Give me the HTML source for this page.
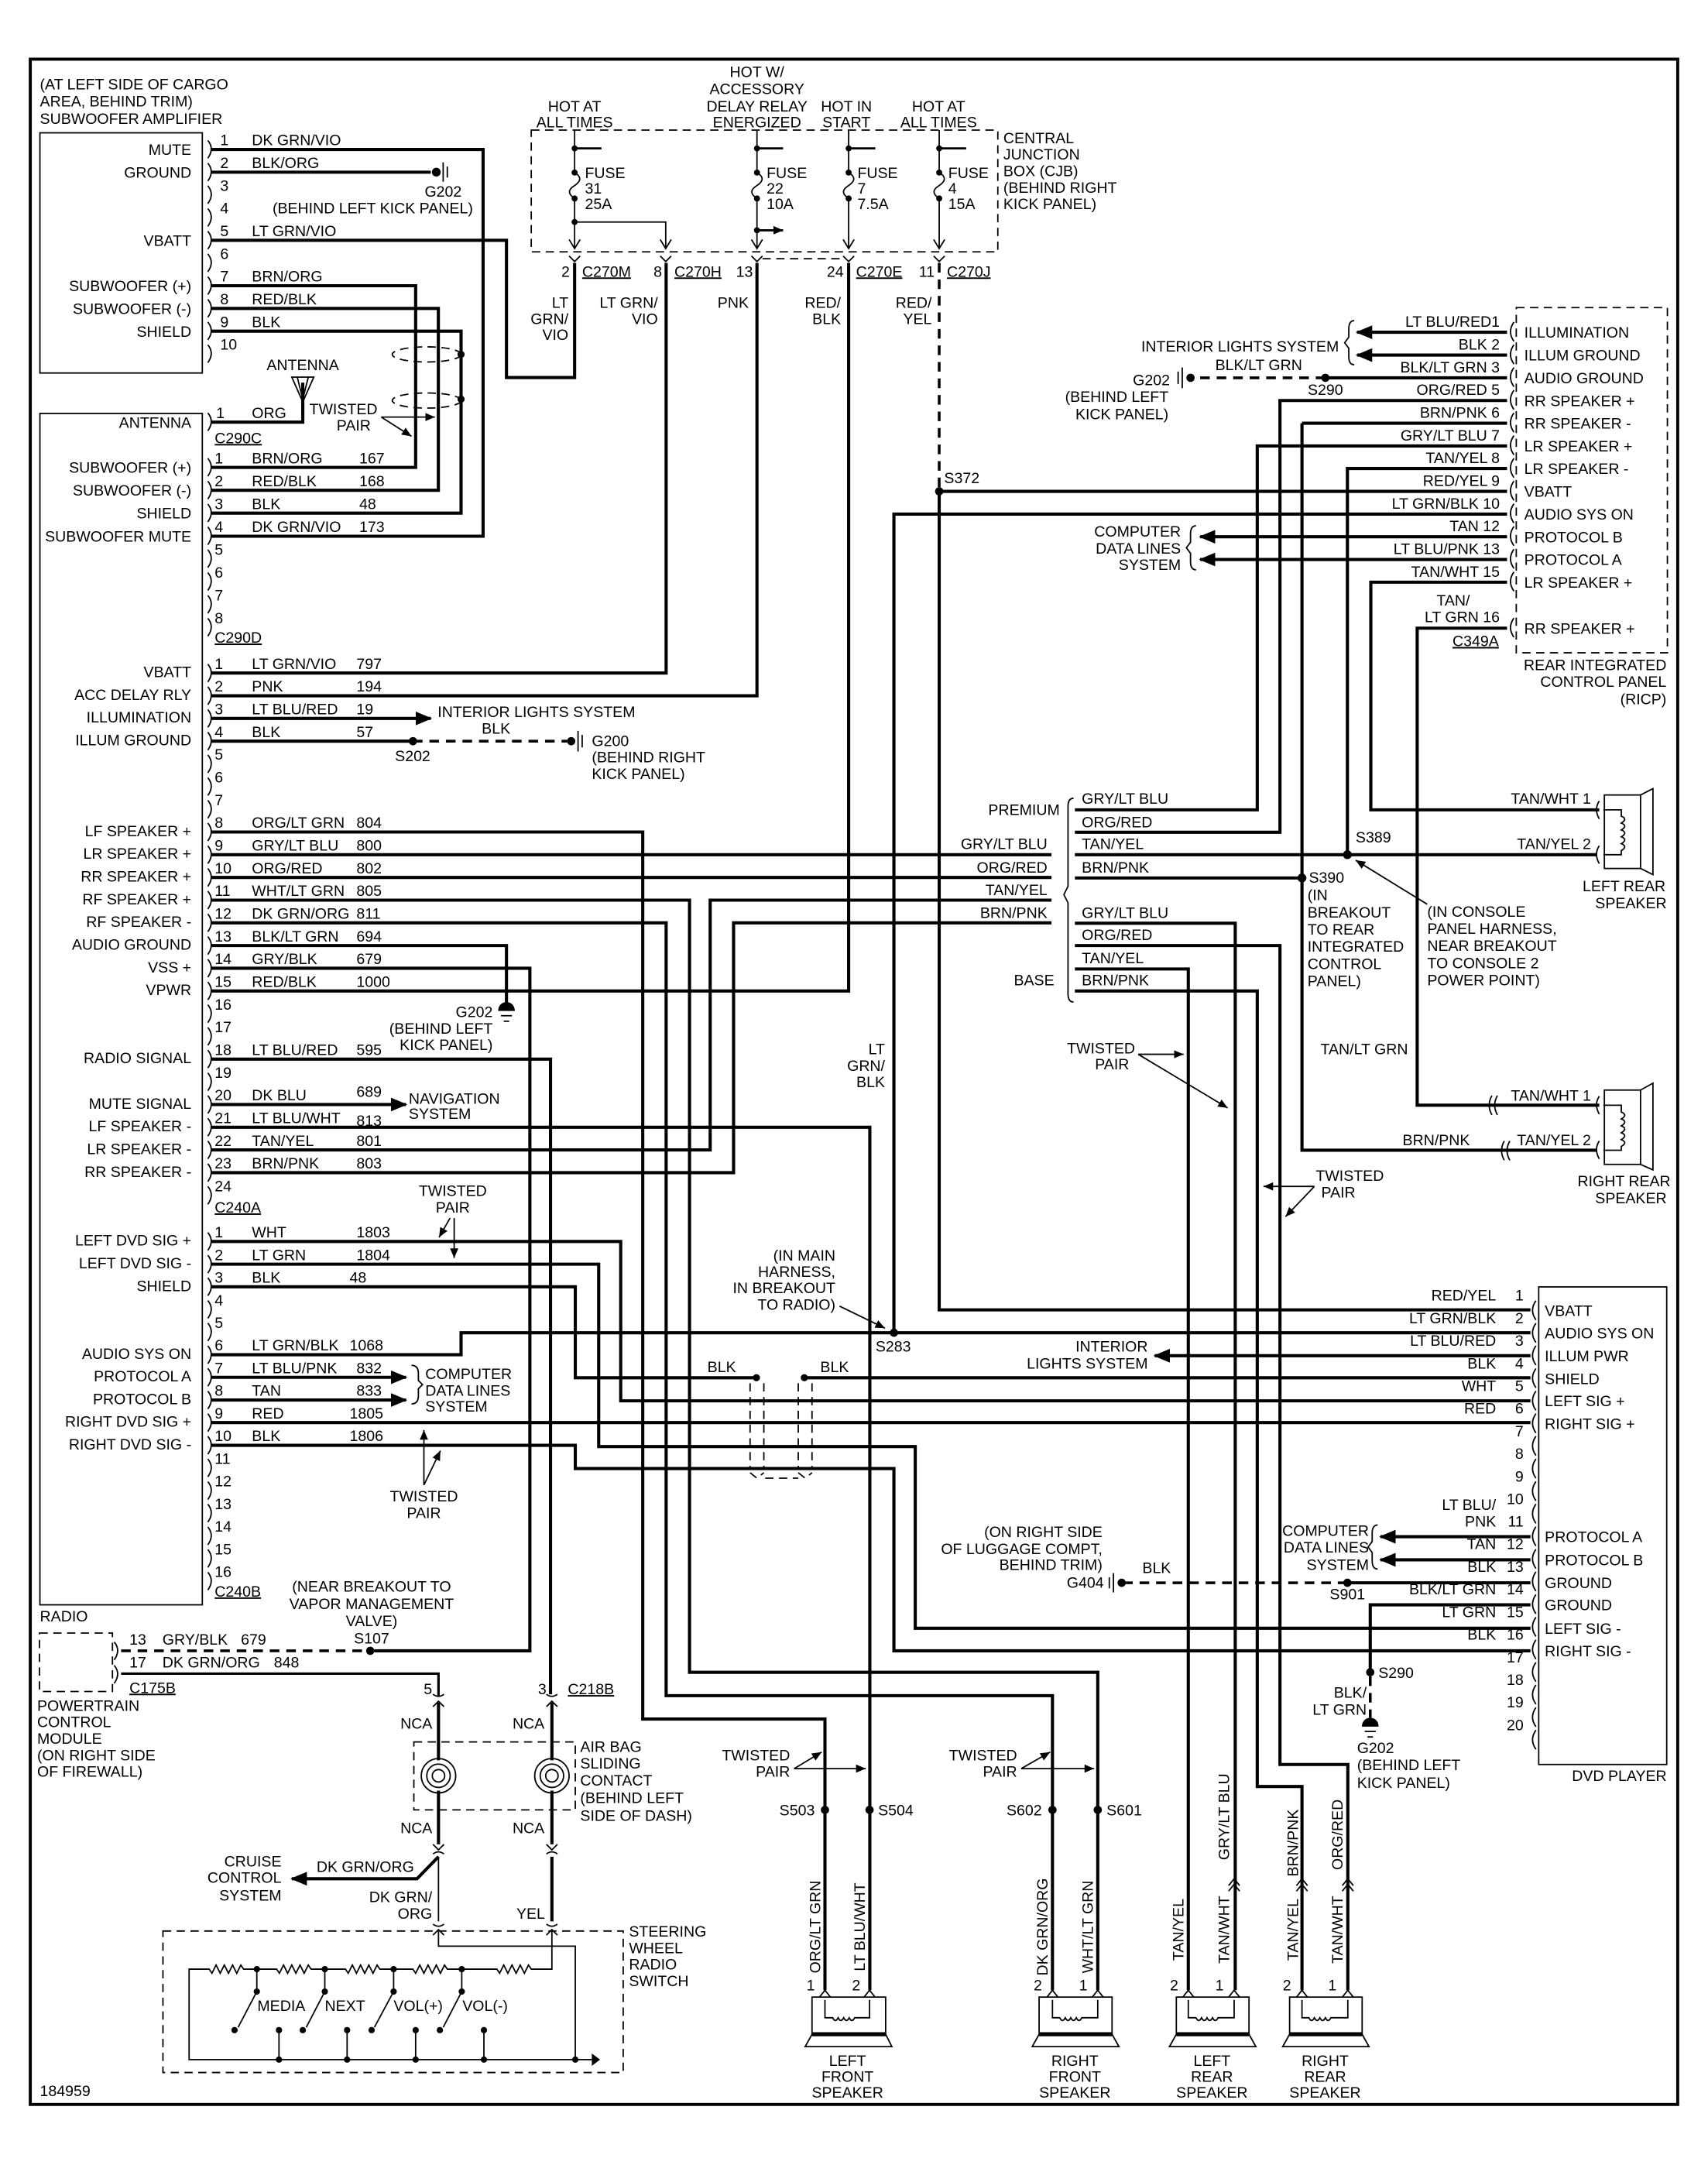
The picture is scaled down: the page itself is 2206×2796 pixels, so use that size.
<!DOCTYPE html>
<html><head><meta charset="utf-8"><style>
html,body{margin:0;padding:0;background:#fff}
svg{display:block}
text{font-family:"Liberation Sans Narrow","Liberation Sans",sans-serif;font-size:11px;fill:#000}
.r{text-anchor:end}.m{text-anchor:middle}
.w{fill:none;stroke:#000;stroke-width:2.3}
.t{fill:none;stroke:#000;stroke-width:1}
.d{fill:none;stroke:#000;stroke-width:2;stroke-dasharray:7 5}
.dt{fill:none;stroke:#000;stroke-width:1;stroke-dasharray:6 4}
.v{font-family:"Liberation Sans",sans-serif;font-size:11px}
</style></head><body>
<svg width="2206" height="2796" viewBox="0 0 1241 1573" preserveAspectRatio="none" xmlns="http://www.w3.org/2000/svg">
<defs>
<marker id="ah" markerWidth="12" markerHeight="10" refX="11" refY="5" orient="auto" markerUnits="userSpaceOnUse"><path d="M0,0 L12,5 L0,10 z" fill="#000"/></marker>
<marker id="sa" markerWidth="7" markerHeight="6" refX="7" refY="3" orient="auto" markerUnits="userSpaceOnUse"><path d="M0,0 L7,3 L0,6 z" fill="#000"/></marker>
</defs>
<rect x="22" y="43" width="1197" height="1486" class="t" stroke-width="2.2" style="stroke-width:2.2"/>

<text x="29" y="65">(AT LEFT SIDE OF CARGO</text>
<text x="29" y="77.5">AREA, BEHIND TRIM)</text>
<text x="29" y="90">SUBWOOFER AMPLIFIER</text>

<rect x="29" y="96.5" width="118" height="174.5" class="t"/>
<g class="r">
<text x="139" y="112.6">MUTE</text><text x="139" y="129.1">GROUND</text><text x="139" y="178.6">VBATT</text>
<text x="139" y="211.6">SUBWOOFER (+)</text><text x="139" y="228.1">SUBWOOFER (-)</text><text x="139" y="244.6">SHIELD</text>
</g>
<g>
<text x="160" y="105.6">1</text><text x="160" y="122.1">2</text><text x="160" y="138.6">3</text><text x="160" y="155.1">4</text><text x="160" y="171.6">5</text><text x="160" y="188.1">6</text><text x="160" y="204.6">7</text><text x="160" y="221.1">8</text><text x="160" y="237.6">9</text><text x="160" y="254.1">10</text>
<text x="183" y="105.6">DK GRN/VIO</text><text x="183" y="122.1">BLK/ORG</text><text x="183" y="171.6">LT GRN/VIO</text>
<text x="183" y="204.6">BRN/ORG</text><text x="183" y="221.1">RED/BLK</text><text x="183" y="237.6">BLK</text>
</g>
<path class="t" d="M151,102 q5,6 0,13 M151,118.5 q5,6 0,13 M151,135 q5,6 0,13 M151,151.5 q5,6 0,13 M151,168 q5,6 0,13 M151,184.5 q5,6 0,13 M151,201 q5,6 0,13 M151,217.5 q5,6 0,13 M151,234 q5,6 0,13 M151,250.5 q5,6 0,13"/>
<path class="w" d="M153,108.6 H351 V389.6 H153"/>
<path class="w" d="M153,125.1 H313"/>
<circle cx="317" cy="125.1" r="3.2"/>
<path class="t" d="M322,118 V132 M325,121 V129"/>
<text class="m" x="322" y="143">G202</text>
<text x="198" y="155">(BEHIND LEFT KICK PANEL)</text>
<path class="w" d="M153,174.6 H368 V274.3 H417.5 V191"/>
<path class="w" d="M153,207.6 H302 V339.6 H153"/>
<path class="w" d="M153,224.1 H318.5 V356.2 H153"/>
<path class="w" d="M153,240.6 H335 V372.8 H153"/>
<ellipse cx="310" cy="257.5" rx="25" ry="5.5" class="dt"/>
<ellipse cx="310" cy="291" rx="25" ry="5.5" class="dt"/>
<circle cx="335" cy="257.5" r="2.6"/><circle cx="335" cy="290" r="2.6"/>
<text class="m" x="220" y="269">ANTENNA</text>
<path class="t" d="M212,274 L228,274 L220,292 Z M216,274 L220,290 L224,274"/>
<path class="w" d="M220,278 V306.7 H153"/>
<text class="m" x="249.5" y="301">TWISTED</text><text class="m" x="257" y="312.7">PAIR</text>
<path class="t" d="M277,303 H316" marker-end="url(#sa)"/>
<path class="t" d="M277,303 L299,317" marker-end="url(#sa)"/>

<rect x="29" y="300.4" width="118" height="865.6" class="t"/>
<text x="29" y="1178">RADIO</text>
<g class="r">
<text x="139" y="310.7">ANTENNA</text>
<text x="139" y="343.6">SUBWOOFER (+)</text><text x="139" y="360.2">SUBWOOFER (-)</text><text x="139" y="376.8">SHIELD</text><text x="139" y="393.4">SUBWOOFER MUTE</text>
<text x="139" y="492">VBATT</text><text x="139" y="508.5">ACC DELAY RLY</text><text x="139" y="525">ILLUMINATION</text><text x="139" y="541.5">ILLUM GROUND</text>
<text x="139" y="607.5">LF SPEAKER +</text><text x="139" y="624">LR SPEAKER +</text><text x="139" y="640.5">RR SPEAKER +</text><text x="139" y="657">RF SPEAKER +</text><text x="139" y="673.5">RF SPEAKER -</text><text x="139" y="690">AUDIO GROUND</text><text x="139" y="706.5">VSS +</text><text x="139" y="723">VPWR</text>
<text x="139" y="772.5">RADIO SIGNAL</text><text x="139" y="805.5">MUTE SIGNAL</text><text x="139" y="822">LF SPEAKER -</text><text x="139" y="838.5">LR SPEAKER -</text><text x="139" y="855">RR SPEAKER -</text>
<text x="139" y="905">LEFT DVD SIG +</text><text x="139" y="921.5">LEFT DVD SIG -</text><text x="139" y="938">SHIELD</text>
<text x="139" y="987.3">AUDIO SYS ON</text><text x="139" y="1003.7">PROTOCOL A</text><text x="139" y="1020.2">PROTOCOL B</text><text x="139" y="1036.6">RIGHT DVD SIG +</text><text x="139" y="1053.1">RIGHT DVD SIG -</text>
</g>
<text x="157" y="303.7">1</text><text x="183" y="303.7">ORG</text>
<text x="156" y="322" text-decoration="underline">C290C</text>
<g>
<text x="156" y="336.6">1</text><text x="183" y="336.6">BRN/ORG</text><text x="261" y="336.6">167</text>
<text x="156" y="353.2">2</text><text x="183" y="353.2">RED/BLK</text><text x="261" y="353.2">168</text>
<text x="156" y="369.8">3</text><text x="183" y="369.8">BLK</text><text x="261" y="369.8">48</text>
<text x="156" y="386.4">4</text><text x="183" y="386.4">DK GRN/VIO</text><text x="261" y="386.4">173</text>
<text x="156" y="403">5</text><text x="156" y="419.6">6</text><text x="156" y="436.2">7</text><text x="156" y="452.8">8</text>
</g>
<text x="156" y="467" text-decoration="underline">C290D</text>
<g>
<text x="156" y="486">1</text><text x="183" y="486">LT GRN/VIO</text><text x="259" y="486">797</text>
<text x="156" y="502.5">2</text><text x="183" y="502.5">PNK</text><text x="259" y="502.5">194</text>
<text x="156" y="519">3</text><text x="183" y="519">LT BLU/RED</text><text x="259" y="519">19</text>
<text x="156" y="535.5">4</text><text x="183" y="535.5">BLK</text><text x="259" y="535.5">57</text>
<text x="156" y="552">5</text><text x="156" y="568.5">6</text><text x="156" y="585">7</text>
<text x="156" y="601.5">8</text><text x="183" y="601.5">ORG/LT GRN</text><text x="259" y="601.5">804</text>
<text x="156" y="618">9</text><text x="183" y="618">GRY/LT BLU</text><text x="259" y="618">800</text>
<text x="156" y="634.5">10</text><text x="183" y="634.5">ORG/RED</text><text x="259" y="634.5">802</text>
<text x="156" y="651">11</text><text x="183" y="651">WHT/LT GRN</text><text x="259" y="651">805</text>
<text x="156" y="667.5">12</text><text x="183" y="667.5">DK GRN/ORG</text><text x="259" y="667.5">811</text>
<text x="156" y="684">13</text><text x="183" y="684">BLK/LT GRN</text><text x="259" y="684">694</text>
<text x="156" y="700.5">14</text><text x="183" y="700.5">GRY/BLK</text><text x="259" y="700.5">679</text>
<text x="156" y="717">15</text><text x="183" y="717">RED/BLK</text><text x="259" y="717">1000</text>
<text x="156" y="733.5">16</text><text x="156" y="750">17</text>
<text x="156" y="766.5">18</text><text x="183" y="766.5">LT BLU/RED</text><text x="259" y="766.5">595</text>
<text x="156" y="783">19</text>
<text x="156" y="799.5">20</text><text x="183" y="799.5">DK BLU</text><text x="259" y="797">689</text>
<text x="156" y="816">21</text><text x="183" y="816">LT BLU/WHT</text><text x="259" y="818">813</text>
<text x="156" y="832.5">22</text><text x="183" y="832.5">TAN/YEL</text><text x="259" y="832.5">801</text>
<text x="156" y="849">23</text><text x="183" y="849">BRN/PNK</text><text x="259" y="849">803</text>
<text x="156" y="865.5">24</text>
</g>
<text x="156" y="881" text-decoration="underline">C240A</text>
<g>
<text x="156" y="899">1</text><text x="183" y="899">WHT</text><text x="259" y="899">1803</text>
<text x="156" y="915.5">2</text><text x="183" y="915.5">LT GRN</text><text x="259" y="915.5">1804</text>
<text x="156" y="932">3</text><text x="183" y="932">BLK</text><text x="254" y="932">48</text>
<text x="156" y="948.4">4</text><text x="156" y="964.8">5</text>
<text x="156" y="981.3">6</text><text x="183" y="981.3">LT GRN/BLK</text><text x="254" y="981.3">1068</text>
<text x="156" y="997.7">7</text><text x="183" y="997.7">LT BLU/PNK</text><text x="259" y="997.7">832</text>
<text x="156" y="1014.2">8</text><text x="183" y="1014.2">TAN</text><text x="259" y="1014.2">833</text>
<text x="156" y="1030.6">9</text><text x="183" y="1030.6">RED</text><text x="254" y="1030.6">1805</text>
<text x="156" y="1047.1">10</text><text x="183" y="1047.1">BLK</text><text x="254" y="1047.1">1806</text>
<text x="156" y="1063.5">11</text><text x="156" y="1080">12</text><text x="156" y="1096.4">13</text><text x="156" y="1112.9">14</text><text x="156" y="1129.3">15</text><text x="156" y="1145.8">16</text>
</g>
<text x="156" y="1160" text-decoration="underline">C240B</text>
<path class="t" d="M151,300 q5,6 0,13 M151,333 q5,6 0,13 M151,349.6 q5,6 0,13 M151,366.2 q5,6 0,13 M151,382.8 q5,6 0,13 M151,399.4 q5,6 0,13 M151,416 q5,6 0,13 M151,432.6 q5,6 0,13 M151,449.2 q5,6 0,13
M151,482.5 q5,6 0,13 M151,499 q5,6 0,13 M151,515.5 q5,6 0,13 M151,532 q5,6 0,13 M151,548.5 q5,6 0,13 M151,565 q5,6 0,13 M151,581.5 q5,6 0,13 M151,598 q5,6 0,13 M151,614.5 q5,6 0,13 M151,631 q5,6 0,13 M151,647.5 q5,6 0,13 M151,664 q5,6 0,13 M151,680.5 q5,6 0,13 M151,697 q5,6 0,13 M151,713.5 q5,6 0,13 M151,730 q5,6 0,13 M151,746.5 q5,6 0,13 M151,763 q5,6 0,13 M151,779.5 q5,6 0,13 M151,796 q5,6 0,13 M151,812.5 q5,6 0,13 M151,829 q5,6 0,13 M151,845.5 q5,6 0,13 M151,862 q5,6 0,13
M151,895.5 q5,6 0,13 M151,912 q5,6 0,13 M151,928.4 q5,6 0,13 M151,944.9 q5,6 0,13 M151,961.3 q5,6 0,13 M151,977.8 q5,6 0,13 M151,994.2 q5,6 0,13 M151,1010.7 q5,6 0,13 M151,1027.1 q5,6 0,13 M151,1043.6 q5,6 0,13 M151,1060 q5,6 0,13 M151,1076.5 q5,6 0,13 M151,1092.9 q5,6 0,13 M151,1109.4 q5,6 0,13 M151,1125.8 q5,6 0,13 M151,1142.3 q5,6 0,13"/>

<g class="m">
<text x="417.5" y="81">HOT AT</text><text x="417.5" y="92.5">ALL TIMES</text>
<text x="550" y="56">HOT W/</text><text x="550" y="68.4">ACCESSORY</text><text x="550" y="81">DELAY RELAY</text><text x="550" y="92.5">ENERGIZED</text>
<text x="615" y="81">HOT IN</text><text x="615" y="92.5">START</text>
<text x="682" y="81">HOT AT</text><text x="682" y="92.5">ALL TIMES</text>
</g>
<text x="729" y="104">CENTRAL</text><text x="729" y="116">JUNCTION</text><text x="729" y="128">BOX (CJB)</text><text x="729" y="140">(BEHIND RIGHT</text><text x="729" y="152">KICK PANEL)</text>
<rect x="386" y="94.5" width="339" height="88.5" class="dt"/>
<path class="t" d="M417.5,94.5 V125.4 c5,3 5,6 0,9.4 c-5,3 -5,6 0,9.4 V180 M550,94.5 V125.4 c5,3 5,6 0,9.4 c-5,3 -5,6 0,9.4 V180 M616.6,94.5 V125.4 c5,3 5,6 0,9.4 c-5,3 -5,6 0,9.4 V180 M682.4,94.5 V125.4 c5,3 5,6 0,9.4 c-5,3 -5,6 0,9.4 V180 M417.5,161.3 H483.7 V180"/>
<path class="t" d="M413.5,174 L417.5,180.6 L421.5,174 M479.7,174 L483.7,180.6 L487.7,174 M546,174 L550,180.6 L554,174 M612.6,174 L616.6,180.6 L620.6,174 M678.4,174 L682.4,180.6 L686.4,174"/>
<g>
<circle cx="417.5" cy="107.8" r="2.2"/><circle cx="417.5" cy="125.4" r="2.2"/><circle cx="417.5" cy="144.2" r="2.2"/><circle cx="417.5" cy="161.3" r="2.2"/>
<circle cx="550" cy="107.8" r="2.2"/><circle cx="550" cy="125.4" r="2.2"/><circle cx="550" cy="144.2" r="2.2"/><circle cx="550" cy="167.3" r="2.2"/>
<circle cx="616.6" cy="107.8" r="2.2"/><circle cx="616.6" cy="125.4" r="2.2"/><circle cx="616.6" cy="144.2" r="2.2"/>
<circle cx="682.4" cy="107.8" r="2.2"/><circle cx="682.4" cy="125.4" r="2.2"/><circle cx="682.4" cy="144.2" r="2.2"/>
</g>
<path class="w" style="stroke-width:1.6" d="M417.5,107.8 H437 M550,107.8 H569 M616.6,107.8 H636 M682.4,107.8 H702 M550,167.3 H569" marker-end="url(#sa)"/>
<path class="w" style="stroke-width:1.6" d="M550,167.3 H569" marker-end="url(#sa)"/>
<text x="425" y="129.4">FUSE</text><text x="425" y="140.7">31</text><text x="425" y="152">25A</text>
<text x="557" y="129.4">FUSE</text><text x="557" y="140.7">22</text><text x="557" y="152">10A</text>
<text x="623" y="129.4">FUSE</text><text x="623" y="140.7">7</text><text x="623" y="152">7.5A</text>
<text x="689" y="129.4">FUSE</text><text x="689" y="140.7">4</text><text x="689" y="152">15A</text>
<path class="t" d="M413.5,186 L417.5,190 L421.5,186 M479.7,186 L483.7,190 L487.7,186 M546,186 L550,190 L554,186 M612.6,186 L616.6,190 L620.6,186 M678.4,186 L682.4,190 L686.4,186"/>
<path class="dt" d="M554,188 H612"/>
<text class="r" x="414" y="201">2</text><text x="423" y="201" text-decoration="underline">C270M</text>
<text class="r" x="481" y="201">8</text><text x="490" y="201" text-decoration="underline">C270H</text>
<text class="r" x="547" y="201">13</text>
<text class="r" x="613" y="201">24</text><text x="622" y="201" text-decoration="underline">C270E</text>
<text class="r" x="679" y="201">11</text><text x="688" y="201" text-decoration="underline">C270J</text>
<g class="r">
<text x="413" y="223.6">LT</text><text x="413" y="235.4">GRN/</text><text x="413" y="247">VIO</text>
<text x="478" y="223.6">LT GRN/</text><text x="478" y="235.4">VIO</text>
<text x="544" y="223.6">PNK</text>
<text x="611" y="223.6">RED/</text><text x="611" y="235.4">BLK</text>
<text x="677" y="223.6">RED/</text><text x="677" y="235.4">YEL</text>
</g>
<path class="d" d="M682.4,191 V357"/>
<circle cx="682.4" cy="357" r="3"/>
<text x="686" y="351">S372</text>

<path class="w" d="M153,489 H484 V191"/>
<path class="w" d="M153,505.5 H550 V191"/>
<path class="w" d="M153,522 H313" marker-end="url(#ah)"/>
<text x="318" y="521">INTERIOR LIGHTS SYSTEM</text>
<text x="350" y="533">BLK</text>
<path class="w" d="M153,538.5 H300"/>
<path class="d" d="M300,538.5 H412"/>
<circle cx="300" cy="538.5" r="3"/>
<circle cx="415" cy="538.5" r="3"/>
<path class="t" d="M420,531 V546 M423,534 V543"/>
<text x="287" y="553">S202</text>
<text x="430" y="542">G200</text><text x="430" y="554">(BEHIND RIGHT</text><text x="430" y="566">KICK PANEL)</text>
<path class="w" d="M153,604.5 H467 V1249 H599.4 V1446"/>
<path class="w" d="M153,621 H764"/>
<path class="w" d="M153,637.5 H764"/>
<path class="w" d="M153,654 H501 V1215 H797.6 V1446"/>
<path class="w" d="M153,670.5 H484 V1232 H764.7 V1446"/>
<path class="w" d="M153,687 H368 V733"/>
<path class="t" d="M362,734 H374 M364,738 H372 M366,742 H370"/>
<path d="M362,734 a6,6 0 0 1 12,0 z"/>
<text class="r" x="358" y="739">G202</text><text class="r" x="358" y="751">(BEHIND LEFT</text><text class="r" x="358" y="763">KICK PANEL)</text>
<path class="w" d="M153,703.5 H385 V1199.4 H272"/>
<path class="w" d="M153,720 H616.6 V191"/>
<path class="w" d="M153,769.5 H400 V1231"/>
<path class="w" d="M153,802.5 H295" marker-end="url(#ah)"/>
<text x="297" y="802">NAVIGATION</text><text x="297" y="813">SYSTEM</text>
<path class="w" d="M153,819 H632 V1446"/>
<path class="w" d="M153,835.5 H516 V654 H764"/>
<path class="w" d="M153,852 H533 V670.5 H764"/>
<text class="m" x="329" y="869">TWISTED</text><text class="m" x="329" y="881">PAIR</text>
<path class="t" d="M327,885 L319,899" marker-end="url(#sa)"/>
<path class="t" d="M330,885 V914" marker-end="url(#sa)"/>
<text class="r" x="643" y="766">LT</text><text class="r" x="643" y="778">GRN/</text><text class="r" x="643" y="790">BLK</text>

<path class="w" d="M153,902 H451 V1017.8 H1112"/>
<path class="w" d="M153,918.5 H435 V1051 H665 V1183 H1112"/>
<path class="w" d="M153,934.9 H418 V1001 H549.6"/>
<circle cx="549.6" cy="1001" r="2.6"/>
<path class="w" d="M584.4,1001 H1112"/>
<circle cx="584.4" cy="1001" r="2.6"/>
<text x="514" y="997">BLK</text><text x="596" y="997">BLK</text>
<path class="dt" d="M545,1005 V1066 M555,1005 V1066 M580,1005 V1066 M590,1005 V1066 M545,1070 L550,1074 L555,1070 M580,1070 L585,1074 L590,1070 M556,1074 H580"/>
<path class="w" d="M153,984.3 H335 V968.3 H1112"/>
<circle cx="649.5" cy="968.3" r="3"/>
<text class="m" x="649" y="982">S283</text>
<path class="w" d="M649.5,968.3 V373.5 H1095"/>
<text class="r" x="607" y="916">(IN MAIN</text><text class="r" x="607" y="927.8">HARNESS,</text><text class="r" x="607" y="939.6">IN BREAKOUT</text><text class="r" x="607" y="951.5">TO RADIO)</text>
<path class="t" d="M610,949 L643,965" marker-end="url(#sa)"/>
<path class="w" d="M153,1000.7 H295" marker-end="url(#ah)"/>
<path class="w" d="M153,1017.2 H295" marker-end="url(#ah)"/>
<path class="t" d="M299,992 q5,0 5,6 v5 l3,3 l-3,3 v5 q0,6 -5,6"/>
<text x="309" y="1002">COMPUTER</text><text x="309" y="1014">DATA LINES</text><text x="309" y="1025.7">SYSTEM</text>
<path class="w" d="M153,1033.6 H1112"/>
<path class="w" d="M153,1050.1 H418 V1067 H649.5 V1199.4 H1112"/>
<text class="m" x="308" y="1091">TWISTED</text><text class="m" x="308" y="1103">PAIR</text>
<path class="t" d="M308,1079 V1039" marker-end="url(#sa)"/>
<path class="t" d="M308,1079 L320,1054" marker-end="url(#sa)"/>

<path class="w" d="M682.4,357 V951.7 H1112"/>
<path class="w" d="M682.4,357 H1095"/>

<rect x="28.7" y="1186.5" width="53" height="42.5" class="dt"/>
<path class="t" d="M83,1193 q5,6 0,13 M83,1210 q5,6 0,13"/>
<text x="94" y="1195">13</text><text x="118" y="1195">GRY/BLK</text><text x="175" y="1195">679</text>
<text x="94" y="1211.5">17</text><text x="118" y="1211.5">DK GRN/ORG</text><text x="199" y="1211.5">848</text>
<text x="94" y="1230" text-decoration="underline">C175B</text>
<path class="d" d="M88,1199.4 H266"/>
<circle cx="269" cy="1199.4" r="3"/>
<text class="m" x="270" y="1156.5">(NEAR BREAKOUT TO</text><text class="m" x="270" y="1169">VAPOR MANAGEMENT</text><text class="m" x="270" y="1181.4">VALVE)</text><text class="m" x="270" y="1194">S107</text>
<path class="w" style="stroke-width:1.8" d="M88,1216 H318.6 V1232"/>
<text x="27" y="1243">POWERTRAIN</text><text x="27" y="1255">CONTROL</text><text x="27" y="1267">MODULE</text><text x="27" y="1279">(ON RIGHT SIDE</text><text x="27" y="1291">OF FIREWALL)</text>

<text class="r" x="314" y="1231">5</text><text class="r" x="397" y="1231">3</text><text x="412.6" y="1231" text-decoration="underline">C218B</text>
<path class="t" d="M314.6,1231 q4,3 8,0 M397,1231 q4,3 8,0 M314.6,1240 L318.6,1236 L322.6,1240 M397,1240 L401,1236 L405,1240"/>
<text class="m" x="302.5" y="1256">NCA</text><text class="m" x="384" y="1256">NCA</text>
<path class="w" d="M318.6,1237 V1279 M401,1237 V1279 M318.6,1301 V1340 M401,1301 V1340"/>
<rect x="300.7" y="1265.6" width="117.3" height="49.4" class="dt"/>
<circle cx="318.6" cy="1290.2" r="12.5" class="t"/><circle cx="318.6" cy="1290.2" r="8.5" class="t"/><circle cx="318.6" cy="1290.2" r="4.5" class="t"/>
<circle cx="401" cy="1290.2" r="12.5" class="t"/><circle cx="401" cy="1290.2" r="8.5" class="t"/><circle cx="401" cy="1290.2" r="4.5" class="t"/>
<text x="421.6" y="1273">AIR BAG</text><text x="421.6" y="1285">SLIDING</text><text x="421.6" y="1297.4">CONTACT</text><text x="421.6" y="1310">(BEHIND LEFT</text><text x="421.6" y="1322.8">SIDE OF DASH)</text>
<text class="m" x="302.5" y="1332">NCA</text><text class="m" x="384" y="1332">NCA</text>
<path class="t" d="M314.6,1340 L318.6,1344 L322.6,1340 M397,1340 L401,1344 L405,1340 M314.6,1347 q4,-3 8,0 M397,1347 q4,-3 8,0"/>
<path class="w" d="M318.6,1349 L303,1365 H212" marker-end="url(#ah)"/>
<text class="r" x="204.5" y="1356">CRUISE</text><text class="r" x="204.5" y="1368">CONTROL</text><text class="r" x="204.5" y="1381">SYSTEM</text>
<text x="230" y="1360">DK GRN/ORG</text>
<text class="r" x="314" y="1382">DK GRN/</text><text class="r" x="314" y="1394">ORG</text>
<text class="r" x="396" y="1394">YEL</text>
<path class="t" d="M318.6,1349 V1396"/>
<path class="w" d="M401,1349 V1396"/>
<rect x="118.4" y="1403" width="334.4" height="102.8" class="dt"/>
<path class="t" d="M314.6,1398 q4,3 8,0 M397,1398 q4,3 8,0 M314.6,1406 L318.6,1402 L322.6,1406 M397,1406 L401,1402 L405,1406"/>
<text x="457" y="1407">STEERING</text><text x="457" y="1419">WHEEL</text><text x="457" y="1431">RADIO</text><text x="457" y="1443">SWITCH</text>
<path class="t" d="M318.6,1402 V1414 H418 V1496.4 M401,1402 V1430.7 H386 l-2,-3 l-3,6 l-3,-6 l-3,6 l-3,-6 l-3,6 l-3,-6 l-3,6 l-2,-3 H335.5 M335.5,1430.7 H325 l-2,-3 l-3,6 l-3,-6 l-3,6 l-3,-6 l-3,6 l-3,-6 l-3,6 l-2,-3 H286 M286,1430.7 H276 l-2,-3 l-3,6 l-3,-6 l-3,6 l-3,-6 l-3,6 l-3,-6 l-3,6 l-2,-3 H236 M236,1430.7 H226 l-2,-3 l-3,6 l-3,-6 l-3,6 l-3,-6 l-3,6 l-3,-6 l-3,6 l-2,-3 H186.6 M186.6,1430.7 H177 l-2,-3 l-3,6 l-3,-6 l-3,6 l-3,-6 l-3,6 l-3,-6 l-3,6 l-2,-3 H137.4 V1496.4 H430"/>
<path d="M430,1492 L436,1496.4 L430,1501 z"/>
<path class="t" d="M186.6,1430.7 V1447 L173,1473 M236,1430.7 V1447 L222.5,1473 M286,1430.7 V1447 L272,1473 M335.5,1430.7 V1447 L322,1473 M202.7,1475 V1496.4 M252.2,1475 V1496.4 M302,1475 V1496.4 M351.6,1475 V1496.4"/>
<g>
<circle cx="186.6" cy="1430.7" r="2.3"/><circle cx="236" cy="1430.7" r="2.3"/><circle cx="286" cy="1430.7" r="2.3"/><circle cx="335.5" cy="1430.7" r="2.3"/>
<circle cx="186.6" cy="1447" r="2.3"/><circle cx="236" cy="1447" r="2.3"/><circle cx="286" cy="1447" r="2.3"/><circle cx="335.5" cy="1447" r="2.3"/>
<circle cx="170.4" cy="1475" r="2.3"/><circle cx="220" cy="1475" r="2.3"/><circle cx="270" cy="1475" r="2.3"/><circle cx="319.6" cy="1475" r="2.3"/>
<circle cx="202.7" cy="1475" r="2.3"/><circle cx="252.2" cy="1475" r="2.3"/><circle cx="302" cy="1475" r="2.3"/><circle cx="351.6" cy="1475" r="2.3"/>
<circle cx="202.7" cy="1496.4" r="2.3"/><circle cx="252.2" cy="1496.4" r="2.3"/><circle cx="302" cy="1496.4" r="2.3"/><circle cx="351.6" cy="1496.4" r="2.3"/><circle cx="418" cy="1496.4" r="2.3"/>
</g>
<text x="187" y="1461">MEDIA</text><text x="236" y="1461">NEXT</text><text x="286" y="1461">VOL(+)</text><text x="336" y="1461">VOL(-)</text>
<text x="29" y="1523">184959</text>

<g class="r"><text x="761" y="617">GRY/LT BLU</text><text x="761" y="634">ORG/RED</text><text x="761" y="650.5">TAN/YEL</text><text x="761" y="667">BRN/PNK</text>
<text x="770" y="592">PREMIUM</text><text x="766" y="716">BASE</text></g>
<path class="t" d="M780,580 q-4,0 -4,6 v58 l-3,6 l3,6 v66 q0,6 4,6"/>
<text x="786" y="584">GRY/LT BLU</text><text x="786" y="601">ORG/RED</text><text x="786" y="617">TAN/YEL</text><text x="786" y="634">BRN/PNK</text>
<text x="786" y="667">GRY/LT BLU</text><text x="786" y="683">ORG/RED</text><text x="786" y="700">TAN/YEL</text><text x="786" y="716">BRN/PNK</text>
<path class="w" d="M781,588.4 H913.5 V324 H1095"/>
<path class="w" d="M781,604.7 H930 V291 H1095"/>
<path class="w" d="M781,621 H1160"/>
<path class="w" d="M979,621 V340.4 H1095"/>
<circle cx="979" cy="621" r="3.2"/>
<path class="w" d="M781,637.9 H946"/>
<path class="w" d="M946,307.5 H1095 M946,307.5 V835.7 H1160"/>
<circle cx="946" cy="637.9" r="3.2"/>
<text x="985" y="612">S389</text><text x="951" y="641.5">S390</text>
<text x="950" y="654">(IN</text><text x="950" y="666.6">BREAKOUT</text><text x="950" y="679">TO REAR</text><text x="950" y="691.5">INTEGRATED</text><text x="950" y="704">CONTROL</text><text x="950" y="716.5">PANEL)</text>
<text x="1037" y="666">(IN CONSOLE</text><text x="1037" y="678.5">PANEL HARNESS,</text><text x="1037" y="691">NEAR BREAKOUT</text><text x="1037" y="703.5">TO CONSOLE 2</text><text x="1037" y="716">POWER POINT)</text>
<path class="t" d="M1037,657 L985,625" marker-end="url(#sa)"/>
<path class="w" d="M781,670.8 H897.5 V1446"/>
<path class="w" d="M781,687 H930 V1282 H979.3 V1446"/>
<path class="w" d="M781,704 H863.4 V1446"/>
<path class="w" d="M781,720 H913.5 V1298 H946 V1446"/>
<text class="m" x="800" y="765.5">TWISTED</text><text class="m" x="808" y="777">PAIR</text>
<path class="t" d="M827,766 H860" marker-end="url(#sa)"/>
<path class="t" d="M827,766 L892,805" marker-end="url(#sa)"/>
<text x="956" y="858">TWISTED</text><text x="960" y="870">PAIR</text>
<path class="t" d="M955,862 H918" marker-end="url(#sa)"/>
<path class="t" d="M955,862 L934,884" marker-end="url(#sa)"/>
<text class="r" x="1023" y="766">TAN/LT GRN</text>

<rect x="1101.7" y="223.5" width="109.8" height="250.8" class="dt"/>
<path class="t" d="M1100,234 q-5,7 0,14 M1100,250.5 q-5,7 0,14 M1100,267 q-5,7 0,14 M1100,283.5 q-5,7 0,14 M1100,300 q-5,7 0,14 M1100,316.5 q-5,7 0,14 M1100,333 q-5,7 0,14 M1100,349.5 q-5,7 0,14 M1100,366 q-5,7 0,14 M1100,382.5 q-5,7 0,14 M1100,399 q-5,7 0,14 M1100,415.5 q-5,7 0,14 M1100,449 q-5,7 0,14"/>
<g class="r">
<text x="1089.7" y="237.4">LT BLU/RED1</text><text x="1089.7" y="254">BLK  2</text><text x="1089.7" y="270.5">BLK/LT GRN  3</text><text x="1089.7" y="287">ORG/RED  5</text><text x="1089.7" y="303.5">BRN/PNK  6</text><text x="1089.7" y="320">GRY/LT BLU  7</text><text x="1089.7" y="336.4">TAN/YEL  8</text><text x="1089.7" y="353">RED/YEL  9</text><text x="1089.7" y="369.5">LT GRN/BLK 10</text><text x="1089.7" y="386">TAN 12</text><text x="1089.7" y="402.5">LT BLU/PNK 13</text><text x="1089.7" y="419">TAN/WHT 15</text><text x="1068" y="440">TAN/</text><text x="1089.7" y="452">LT GRN  16</text>
<text x="1089" y="469.5" text-decoration="underline">C349A</text>
<text x="972.8" y="255.5">INTERIOR LIGHTS SYSTEM</text>
<text x="858" y="390">COMPUTER</text><text x="858" y="402.3">DATA LINES</text><text x="858" y="414">SYSTEM</text>
<text x="850" y="280">G202</text><text x="849" y="292">(BEHIND LEFT</text><text x="849" y="304.6">KICK PANEL)</text>
<text x="1210.8" y="487">REAR INTEGRATED</text><text x="1210.8" y="499">CONTROL PANEL</text><text x="1210.8" y="511.7">(RICP)</text>
</g>
<g>
<text x="1107.5" y="245.4">ILLUMINATION</text><text x="1107.5" y="262">ILLUM GROUND</text><text x="1107.5" y="278.5">AUDIO GROUND</text><text x="1107.5" y="295">RR SPEAKER +</text><text x="1107.5" y="311.5">RR SPEAKER -</text><text x="1107.5" y="328">LR SPEAKER +</text><text x="1107.5" y="344.4">LR SPEAKER -</text><text x="1107.5" y="361">VBATT</text><text x="1107.5" y="377.5">AUDIO SYS ON</text><text x="1107.5" y="394">PROTOCOL B</text><text x="1107.5" y="410.5">PROTOCOL A</text><text x="1107.5" y="427">LR SPEAKER +</text><text x="1107.5" y="460.4">RR SPEAKER +</text>
</g>
<path class="w" d="M1095,241.4 H986" marker-end="url(#ah)"/>
<path class="w" d="M1095,258 H986" marker-end="url(#ah)"/>
<path class="t" d="M984,233 q-4,0 -4,6 v6 l-3,4 l3,4 v6 q0,6 4,6"/>
<path class="w" d="M1095,274.5 H963"/>
<path class="d" d="M963,274.5 H868"/>
<circle cx="963" cy="274.5" r="3"/><circle cx="865" cy="274.5" r="3"/>
<path class="t" d="M859,267 V282 M856,270 V279"/>
<text x="883" y="269">BLK/LT GRN</text><text class="m" x="963" y="287">S290</text>
<path class="w" d="M1095,390 H872" marker-end="url(#ah)"/>
<path class="w" d="M1095,406.5 H872" marker-end="url(#ah)"/>
<path class="t" d="M869,382 q-4,0 -4,6 v6 l-3,4 l3,4 v6 q0,6 4,6"/>
<path class="w" d="M1095,423 H996 V588.4 H1162"/>
<path class="w" d="M1095,456.4 H1029.7 V803 H1162"/>
<path class="t" d="M1084,796 q-4,7 0,14 M1088,796 q-4,7 0,14 M1093,829 q-4,7 0,14 M1097,829 q-4,7 0,14"/>

<text class="r" x="1156" y="584">TAN/WHT  1</text><text class="r" x="1156" y="617">TAN/YEL  2</text>
<rect x="1165.7" y="577.6" width="26.3" height="53.4" class="t"/>
<path class="t" d="M1192,577.6 L1201,573 V635.5 L1192,631 M1162,582 q-4,6 0,13 M1162,614.5 q-4,6 0,13 M1165,588.4 H1178 V593 q5,2 0,5 q5,2 0,5 q5,2 0,5 q5,2 0,5 q5,2 0,5 V621 H1165"/>
<text class="m" x="1180" y="647.6">LEFT REAR</text><text class="m" x="1185" y="660">SPEAKER</text>
<text class="r" x="1156" y="799.6">TAN/WHT  1</text><text class="r" x="1156" y="832">TAN/YEL  2</text>
<text class="r" x="1068" y="832">BRN/PNK</text>
<rect x="1165.7" y="792" width="26.3" height="54" class="t"/>
<path class="t" d="M1192,792 L1201,787 V850 L1192,846 M1162,796.5 q-4,6 0,13 M1162,829 q-4,6 0,13 M1165,803 H1178 V808 q5,2 0,5 q5,2 0,5 q5,2 0,5 q5,2 0,5 q5,2 0,5 V835.7 H1165"/>
<text class="m" x="1180" y="862">RIGHT REAR</text><text class="m" x="1185" y="874.4">SPEAKER</text>

<rect x="1118" y="935" width="93" height="347" class="t"/>
<path class="t" d="M1116,945 q-5,7 0,14 M1116,961.4 q-5,7 0,14 M1116,977.8 q-5,7 0,14 M1116,994.3 q-5,7 0,14 M1116,1010.7 q-5,7 0,14 M1116,1027.1 q-5,7 0,14 M1116,1043.5 q-5,7 0,14 M1116,1060 q-5,7 0,14 M1116,1076.4 q-5,7 0,14 M1116,1092.8 q-5,7 0,14 M1116,1109.2 q-5,7 0,14 M1116,1125.6 q-5,7 0,14 M1116,1142 q-5,7 0,14 M1116,1158.5 q-5,7 0,14 M1116,1175 q-5,7 0,14 M1116,1191.4 q-5,7 0,14 M1116,1207.8 q-5,7 0,14 M1116,1224.2 q-5,7 0,14 M1116,1240.6 q-5,7 0,14 M1116,1257 q-5,7 0,14"/>
<g class="r">
<text x="1107" y="945">1</text><text x="1107" y="961.4">2</text><text x="1107" y="977.8">3</text><text x="1107" y="994.3">4</text><text x="1107" y="1010.7">5</text><text x="1107" y="1027.1">6</text><text x="1107" y="1043.5">7</text><text x="1107" y="1060">8</text><text x="1107" y="1076.4">9</text><text x="1107" y="1092.8">10</text><text x="1107" y="1109.2">11</text><text x="1107" y="1125.6">12</text><text x="1107" y="1142">13</text><text x="1107" y="1158.5">14</text><text x="1107" y="1175">15</text><text x="1107" y="1191.4">16</text><text x="1107" y="1207.8">17</text><text x="1107" y="1224.2">18</text><text x="1107" y="1240.6">19</text><text x="1107" y="1257">20</text>
<text x="1087" y="945">RED/YEL</text><text x="1087" y="961.4">LT GRN/BLK</text><text x="1087" y="977.8">LT BLU/RED</text><text x="1087" y="994.3">BLK</text><text x="1087" y="1010.7">WHT</text><text x="1087" y="1027.1">RED</text>
<text x="1087" y="1097">LT BLU/</text><text x="1087" y="1109.2">PNK</text><text x="1087" y="1125.6">TAN</text><text x="1087" y="1142">BLK</text><text x="1087" y="1158.5">BLK/LT GRN</text><text x="1087" y="1175">LT GRN</text><text x="1087" y="1191.4">BLK</text>
<text x="834" y="982">INTERIOR</text><text x="834" y="994.5">LIGHTS SYSTEM</text>
<text x="994.6" y="1116">COMPUTER</text><text x="994.6" y="1128">DATA LINES</text><text x="994.6" y="1140.6">SYSTEM</text>
<text x="801" y="1116.8">(ON RIGHT SIDE</text><text x="801" y="1129">OF LUGGAGE COMPT,</text><text x="801" y="1140.6">BEHIND TRIM)</text><text x="802" y="1153.6">G404</text>
<text x="993" y="1233.5">BLK/</text><text x="993" y="1246">LT GRN</text>
<text x="1211" y="1294">DVD PLAYER</text>
</g>
<g>
<text x="1122.4" y="956">VBATT</text><text x="1122.4" y="972.4">AUDIO SYS ON</text><text x="1122.4" y="989">ILLUM PWR</text><text x="1122.4" y="1005.5">SHIELD</text><text x="1122.4" y="1021.8">LEFT SIG +</text><text x="1122.4" y="1038.4">RIGHT SIG +</text>
<text x="1122.4" y="1120.5">PROTOCOL A</text><text x="1122.4" y="1137.3">PROTOCOL B</text><text x="1122.4" y="1154">GROUND</text><text x="1122.4" y="1170">GROUND</text><text x="1122.4" y="1187">LEFT SIG -</text><text x="1122.4" y="1203.4">RIGHT SIG -</text>
</g>
<path class="w" d="M1112,985 H839" marker-end="url(#ah)"/>
<path class="w" d="M1112,1116.5 H1003" marker-end="url(#ah)"/>
<path class="w" d="M1112,1133.3 H1003" marker-end="url(#ah)"/>
<path class="t" d="M1001,1108 q-4,0 -4,6 v6 l-3,4 l3,4 v6 q0,6 4,6"/>
<path class="w" d="M1112,1150 H979"/>
<path class="d" d="M979,1150 H818"/>
<circle cx="979" cy="1150" r="3"/><circle cx="815" cy="1150" r="3"/>
<path class="t" d="M809,1143 V1157 M806,1146 V1154"/>
<text x="830" y="1143">BLK</text><text class="m" x="979" y="1162">S901</text>
<path class="w" d="M1112,1166 H995.6 V1215"/>
<circle cx="995.6" cy="1215" r="3"/><text x="1001.5" y="1219">S290</text>
<path class="d" d="M995.6,1218 V1248"/>
<path d="M989.6,1254 a6,6 0 0 1 12,0 z"/><path class="t" d="M989.6,1254 H1001.6 M991.6,1258 H999.6 M993.6,1262 H997.6"/>
<text x="986" y="1273.7">G202</text><text x="986" y="1286">(BEHIND LEFT</text><text x="986" y="1299">KICK PANEL)</text>

<circle cx="599.4" cy="1315" r="3"/><circle cx="631.8" cy="1315" r="3"/><circle cx="764.7" cy="1315" r="3"/><circle cx="797.6" cy="1315" r="3"/>
<text class="r" x="592" y="1319">S503</text><text x="638" y="1319">S504</text><text class="r" x="757" y="1319">S602</text><text x="804" y="1319">S601</text>
<text class="r" x="574" y="1279">TWISTED</text><text class="r" x="574" y="1291">PAIR</text>
<path class="t" d="M577,1285 L597,1273" marker-end="url(#sa)"/><path class="t" d="M577,1285 H629" marker-end="url(#sa)"/>
<text class="r" x="739" y="1279">TWISTED</text><text class="r" x="739" y="1291">PAIR</text>
<path class="t" d="M742,1285 L763,1273" marker-end="url(#sa)"/><path class="t" d="M742,1285 H795" marker-end="url(#sa)"/>
<path class="t" d="M892.7,1370 L896.7,1365 L900.7,1370 M892.7,1374 L896.7,1369 L900.7,1374 M942,1370 L946,1365 L950,1370 M942,1374 L946,1369 L950,1374 M975.3,1370 L979.3,1365 L983.3,1370 M975.3,1374 L979.3,1369 L983.3,1374"/>
<g class="v">
<text transform="translate(596,1400) rotate(-90)" text-anchor="middle">ORG/LT GRN</text>
<text transform="translate(628.5,1400) rotate(-90)" text-anchor="middle">LT BLU/WHT</text>
<text transform="translate(761,1400) rotate(-90)" text-anchor="middle">DK GRN/ORG</text>
<text transform="translate(794,1400) rotate(-90)" text-anchor="middle">WHT/LT GRN</text>
<text transform="translate(860,1402) rotate(-90)" text-anchor="middle">TAN/YEL</text>
<text transform="translate(893,1320) rotate(-90)" text-anchor="middle">GRY/LT BLU</text>
<text transform="translate(893,1402) rotate(-90)" text-anchor="middle">TAN/WHT</text>
<text transform="translate(943,1339) rotate(-90)" text-anchor="middle">BRN/PNK</text>
<text transform="translate(975.5,1333) rotate(-90)" text-anchor="middle">ORG/RED</text>
<text transform="translate(943,1402) rotate(-90)" text-anchor="middle">TAN/YEL</text>
<text transform="translate(975.5,1402) rotate(-90)" text-anchor="middle">TAN/WHT</text>
</g>
<g>
<path class="t" d="M595.4,1451 L599.4,1446 L603.4,1451 M627.8,1451 L631.8,1446 L635.8,1451 M760.7,1451 L764.7,1446 L768.7,1451 M793.6,1451 L797.6,1446 L801.6,1451 M859.4,1451 L863.4,1446 L867.4,1451 M892.7,1451 L896.7,1446 L900.7,1451 M942,1451 L946,1446 L950,1451 M975.3,1451 L979.3,1446 L983.3,1451"/>
<rect x="590" y="1451" width="53.5" height="27" class="t"/><path class="t" d="M590,1478 L585,1487 H648 L643.5,1478 M599.4,1453 V1466 H605 q2,4 4,0 q2,4 4,0 q2,4 4,0 q2,4 4,0 H631.8 V1453"/>
<rect x="755" y="1451" width="53" height="27" class="t"/><path class="t" d="M755,1478 L750,1487 H813 L808,1478 M764.7,1453 V1466 H770 q2,4 4,0 q2,4 4,0 q2,4 4,0 q2,4 4,0 H797.6 V1453"/>
<rect x="854.7" y="1451" width="52.8" height="27" class="t"/><path class="t" d="M854.7,1478 L849.7,1487 H912.5 L907.5,1478 M863.4,1453 V1466 H869 q2,4 4,0 q2,4 4,0 q2,4 4,0 q2,4 4,0 H896.7 V1453"/>
<rect x="937" y="1451" width="52.7" height="27" class="t"/><path class="t" d="M937,1478 L932,1487 H994.7 L989.7,1478 M946,1453 V1466 H951 q2,4 4,0 q2,4 4,0 q2,4 4,0 q2,4 4,0 H979.3 V1453"/>
<path class="w" style="stroke-width:3" d="M590,1478 H643.5 M755,1478 H808 M854.7,1478 H907.5 M937,1478 H989.7"/>
</g>
<text x="586" y="1446">1</text><text x="619" y="1446">2</text><text x="751" y="1446">2</text><text x="784" y="1446">1</text>
<text x="850" y="1446">2</text><text x="883" y="1446">1</text><text x="932" y="1446">2</text><text x="965" y="1446">1</text>
<g class="m">
<text x="615.8" y="1501">LEFT</text><text x="615.8" y="1512.5">FRONT</text><text x="615.8" y="1524">SPEAKER</text>
<text x="781" y="1501">RIGHT</text><text x="781" y="1512.5">FRONT</text><text x="781" y="1524">SPEAKER</text>
<text x="880.6" y="1501">LEFT</text><text x="880.6" y="1512.5">REAR</text><text x="880.6" y="1524">SPEAKER</text>
<text x="962.8" y="1501">RIGHT</text><text x="962.8" y="1512.5">REAR</text><text x="962.8" y="1524">SPEAKER</text>
</g>
</svg>
</body></html>
